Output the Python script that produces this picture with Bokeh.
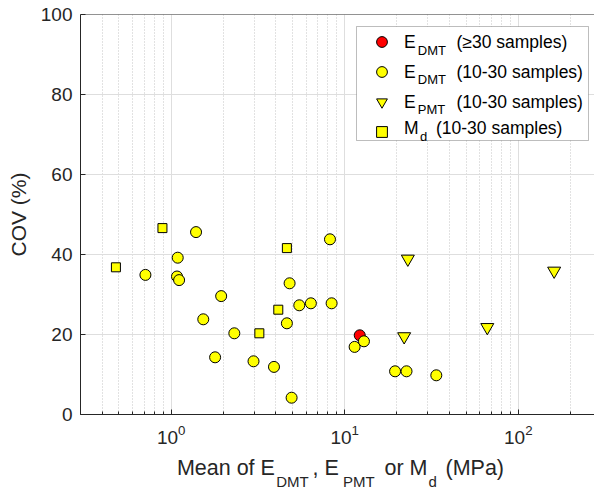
from bokeh.plotting import figure
from bokeh.layouts import column
from bokeh.models import (FixedTicker, LogTickFormatter, Span, Label, BoxAnnotation,
                          Legend, LegendItem, Range1d)
from bokeh.embed import file_html
from bokeh.resources import INLINE

# ---------------- data ----------------
edmt30_x = [12.2]
edmt30_y = [19.8]

edmt_x = [0.71, 1.09, 1.08, 1.11, 1.39, 1.94, 1.53, 2.31, 1.79, 2.98, 3.91, 4.94,
          4.81, 4.64, 5.47, 6.38, 8.22, 8.40, 11.4, 12.9, 19.5, 22.7, 33.7]
edmt_y = [34.9, 39.2, 34.5, 33.6, 45.6, 29.6, 23.8, 20.3, 14.3, 13.3, 11.9, 4.2,
          32.8, 22.8, 27.3, 27.8, 43.8, 27.8, 16.9, 18.3, 10.8, 10.8, 9.8]

epmt_x = [23.1, 22.0, 66.3, 161.0]
epmt_y = [38.9, 19.5, 21.8, 35.9]

md_x = [0.48, 0.89, 3.22, 4.64, 4.14]
md_y = [36.8, 46.6, 20.3, 41.6, 26.2]

x_major = [1, 10, 100]
x_minor = [0.3, 0.4, 0.5, 0.6, 0.7, 0.8, 0.9,
           2, 3, 4, 5, 6, 7, 8, 9,
           20, 30, 40, 50, 60, 70, 80, 90, 200]
y_ticks = [0, 20, 40, 60, 80, 100]

# ---------------- styling ----------------
AX = "#262626"
FONT = "Liberation Sans"
W, H = 594, 491
H1 = 455                 # height of the main plot canvas
FL, FB = 80, 414         # frame left / bottom on canvas

p = figure(width=W, height=H1, x_axis_type="log",
           x_range=Range1d(0.3, 275), y_range=Range1d(0, 100),
           output_backend="svg", toolbar_location=None,
           min_border_left=FL, min_border_right=0, min_border_top=14,
           min_border_bottom=H1 - FB)
p.outline_line_color = None
p.background_fill_color = "white"
p.border_fill_color = "white"

xt = FixedTicker(ticks=x_major, minor_ticks=x_minor)
yt = FixedTicker(ticks=y_ticks, minor_ticks=[])

xa = p.xaxis[0]
xa.ticker = xt
xa.formatter = LogTickFormatter()
ya = p.yaxis[0]
ya.ticker = yt
for a in (xa, ya):
    a.axis_line_color = AX
    a.major_tick_line_color = AX
    a.minor_tick_line_color = AX
    a.major_tick_in = 5
    a.major_tick_out = 0
    a.minor_tick_in = 3
    a.minor_tick_out = 0
    a.major_label_text_font = FONT
    a.major_label_text_font_size = "19px"
    a.major_label_text_color = AX
    a.axis_label_text_font = FONT
    a.axis_label_text_font_size = "21px"
    a.axis_label_text_color = AX
    a.axis_label_text_font_style = "normal"
ya.minor_tick_line_color = None
xa.major_label_standoff = 10
ya.major_label_standoff = 8
ya.axis_label = "COV (%)"
ya.axis_label_standoff = 8
xa.axis_label = None

p.xgrid.ticker = xt
p.ygrid.ticker = yt
p.xgrid.grid_line_color = "#dedede"
p.ygrid.grid_line_color = "#dedede"
p.xgrid.minor_grid_line_color = "#c4c4c4"
p.xgrid.minor_grid_line_dash = "1 2"

p.add_layout(Span(location=100, dimension="width", line_color=AX, line_width=1))

# ---------------- data marks ----------------
r_red = p.scatter(edmt30_x, edmt30_y, marker="circle", size=11,
                  fill_color="#ff0000", line_color="black", line_width=1)
r_edmt = p.scatter(edmt_x, edmt_y, marker="circle", size=11,
                   fill_color="#ffff00", line_color="black", line_width=1)
r_epmt = p.scatter(epmt_x, epmt_y, marker="inverted_triangle", size=13,
                   fill_color="#ffff00", line_color="black", line_width=1)
r_md = p.scatter(md_x, md_y, marker="square", size=9,
                 fill_color="#ffff00", line_color="black", line_width=1)

# ---------------- legend ----------------
p.add_layout(BoxAnnotation(left=356 - FL, right=588 - FL, top=FB - 26, bottom=FB - 140,
                           left_units="screen", right_units="screen",
                           top_units="screen", bottom_units="screen",
                           fill_color="white", fill_alpha=1.0,
                           line_color=AX, line_width=1))

legend = Legend(items=[LegendItem(label=" ", renderers=[r]) for r in (r_red, r_edmt, r_epmt, r_md)],
                location=(367.5 - FL, FB - 145.3), padding=0, margin=0, spacing=3,
                glyph_height=27, glyph_width=27, label_height=27, label_width=1,
                label_standoff=0, border_line_color=None, background_fill_alpha=0,
                label_text_font_size="1px")
p.add_layout(legend)

K = 0.36  # empirical: a Label's y lands near the middle of the capitals


def txt(fig, s, x, base_up, size, color="black"):
    # base_up: wanted baseline, measured upward from the figure's frame bottom
    fig.add_layout(Label(x=x, y=base_up + K * size, x_units="screen", y_units="screen",
                         text=s, text_font=FONT, text_font_size=f"{size}px",
                         text_color=color, text_baseline="alphabetic", text_align="left"))


LS, SS = 17.5, 13
rows = [("E", "DMT", "(\u226530 samples)", 48, 403.6, 417.3, 456),
        ("E", "DMT", "(10-30 samples)", 77.3, 403.6, 417.3, 456),
        ("E", "PMT", "(10-30 samples)", 107.3, 403.6, 417.3, 456),
        ("M", "d", "(10-30 samples)", 134, 403.6, 419.5, 435.5)]
for main, sub, rest, base, x0, x1, x2 in rows:
    txt(p, main, x0 - FL, FB - base, LS)
    txt(p, sub, x1 - FL, FB - base - 6.7, SS)
    txt(p, rest, x2 - FL, FB - base, LS)

# ---------------- x-axis label (with subscripts) in a strip below ----------------
q = figure(width=W, height=H - H1, output_backend="svg", toolbar_location=None,
           x_axis_location=None, y_axis_location=None,
           min_border_left=0, min_border_right=0, min_border_top=0, min_border_bottom=0,
           x_range=Range1d(0, 1), y_range=Range1d(0, 1))
q.outline_line_color = None
q.xgrid.visible = False
q.ygrid.visible = False
q.background_fill_color = "white"
q.border_fill_color = "white"

MS, XS = 21.5, 15
xlabel_parts = [("Mean of E", 176.4, 475, MS), ("DMT", 275.7, 486, XS),
                (", E", 312, 475, MS), ("PMT", 342.5, 486, XS),
                ("or M", 384, 475, MS), ("d", 428, 486, XS),
                ("(MPa)", 445, 475, MS)]
# the strip's frame is aligned with the main frame (left edge at FL)
for s, cx, cy, sz in xlabel_parts:
    txt(q, s, cx - FL, H - cy, sz, AX)

layout = column(p, q, spacing=0)
open("out.html", "w").write(file_html(layout, INLINE))
